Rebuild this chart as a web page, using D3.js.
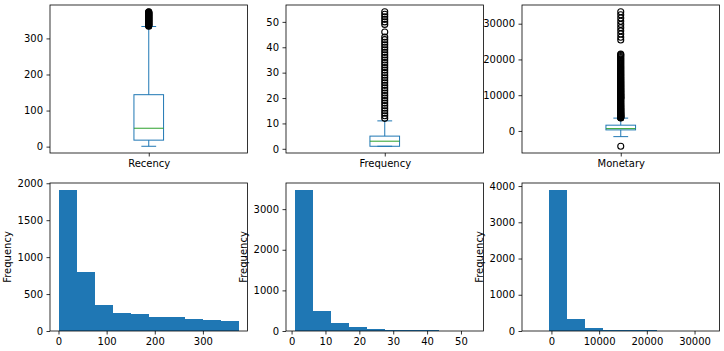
<!DOCTYPE html>
<html><head><meta charset="utf-8">
<script src="https://cdn.jsdelivr.net/npm/d3@7"></script>
<style>body{margin:0;background:#fff}text{font-family:"DejaVu Sans",sans-serif}</style>
</head><body>
<svg id="chart" width="724" height="351"></svg>
<script>
// ---------- data ----------
const categories = ["Recency", "Frequency", "Monetary"];

// box plot statistics
const boxQ1 = [18, 1, 293];
const boxMedian = [51, 3, 648];
const boxQ3 = [144, 5, 1612];
const boxWhiskerLow = [1, 1, -1592];
const boxWhiskerHigh = [333, 11, 3590];

const recencyOutliers = [334, 335, 336, 337, 338, 339, 340, 341, 342, 343, 344, 345, 346, 347, 348, 349, 350,
  351, 352, 353, 354, 355, 356, 357, 358, 359, 360, 361, 362, 363, 364, 365, 366, 367, 368, 369, 370, 371, 372, 373, 374];
const frequencyOutliers = [12, 13, 14, 15, 16, 17, 18, 19, 20, 21, 22, 23, 24, 25, 26, 27, 28, 29, 30, 31, 32, 33,
  34, 35, 36, 37, 38, 39, 40, 41, 42, 43, 44, 46, 49, 50, 51, 52, 53, 54];
const monetaryOutliers = [-4288, 3620, 3700, 3790, 3880, 3960, 4050, 4150, 4240, 4330, 4440, 4530, 4650, 4760, 4870,
  4990, 5100, 5230, 5350, 5480, 5620, 5760, 5900, 6050, 6200, 6360, 6520, 6690, 6860, 7040, 7220, 7410, 7600, 7800,
  8010, 8220, 8440, 8670, 8900, 9050, 9140, 9300, 9390, 9520, 9650, 9800, 9920, 10060, 10200, 10350, 10490, 10640,
  10790, 10950, 11100, 11260, 11420, 11580, 11750, 11920, 12090, 12260, 12440, 12620, 12800, 12990, 13180, 13370,
  13570, 13770, 13970, 14180, 14390, 14600, 14820, 15040, 15260, 15490, 15720, 15950, 16190, 16430, 16680, 16930,
  17180, 17440, 17700, 17960, 18230, 18500, 18780, 19060, 19340, 19630, 19920, 20210, 20510, 20810, 21120, 21350,
  21535, 25450, 26200, 27100, 28000, 28900, 29800, 30700, 31600, 32500, 33350];
const boxOutliers = [recencyOutliers, frequencyOutliers, monetaryOutliers];

const recencyBoxTicks = [0, 100, 200, 300];
const frequencyBoxTicks = [0, 10, 20, 30, 40, 50];
const monetaryBoxTicks = [0, 10000, 20000, 30000];
const boxTicks = [recencyBoxTicks, frequencyBoxTicks, monetaryBoxTicks];

// histogram counts (10 equal-width bins over the data range)
const recencyCounts = [1908, 794, 352, 244, 226, 189, 188, 162, 149, 135];
const frequencyCounts = [3470, 495, 205, 99, 50, 24, 22, 20, 3, 7];
const monetaryCounts = [2, 3890, 331, 83, 25, 20, 18, 2, 4, 5];
const histCounts = [recencyCounts, frequencyCounts, monetaryCounts];

const recencyHistXTicks = [0, 100, 200, 300];
const frequencyHistXTicks = [0, 10, 20, 30, 40, 50];
const monetaryHistXTicks = [0, 10000, 20000, 30000];
const histXTicks = [recencyHistXTicks, frequencyHistXTicks, monetaryHistXTicks];

const recencyHistYTicks = [0, 500, 1000, 1500, 2000];
const frequencyHistYTicks = [0, 1000, 2000, 3000];
const monetaryHistYTicks = [0, 1000, 2000, 3000, 4000];
const histYTicks = [recencyHistYTicks, frequencyHistYTicks, monetaryHistYTicks];

const histYLabel = "Frequency";

// ---------- layout ----------
const colX = [50, 286, 522];
const panelW = 197.5;
const rowY = [5, 183];
const panelH = 148;
const C0 = "#1f77b4", C2 = "#2ca02c";

const svg = d3.select("#chart");
const fmt = d3.format("d");

function styleAxis(g) {
  g.select(".domain").remove();
  g.selectAll(".tick line").attr("stroke", "#000").attr("stroke-width", 0.8);
  g.selectAll(".tick text").attr("fill", "#000").style("font-size", "10px")
    .style("font-family", '"DejaVu Sans", sans-serif');
}

function spine(x0, y0) {
  svg.append("rect").attr("x", x0).attr("y", y0).attr("width", panelW).attr("height", panelH)
    .attr("fill", "none").attr("stroke", "#000").attr("stroke-width", 0.8);
}

categories.forEach((cat, i) => {
  // ----- box plot -----
  const x0 = colX[i], y0 = rowY[0];
  const outl = boxOutliers[i];
  const lo = Math.min(boxWhiskerLow[i], d3.min(outl));
  const hi = Math.max(boxWhiskerHigh[i], d3.max(outl));
  const R = hi - lo;
  const x = d3.scaleLinear().domain([0.5, 1.5]).range([x0, x0 + panelW]);
  const y = d3.scaleLinear().domain([lo - 0.05 * R, hi + 0.05 * R]).range([y0 + panelH, y0]);

  const clipId = "clipb" + i;
  svg.append("clipPath").attr("id", clipId).append("rect")
    .attr("x", x0).attr("y", y0).attr("width", panelW).attr("height", panelH);
  const g = svg.append("g").attr("clip-path", `url(#${clipId})`);

  const pos = 1, bw = 0.15;
  // whiskers
  g.append("line").attr("x1", x(pos)).attr("x2", x(pos)).attr("y1", y(boxQ1[i])).attr("y2", y(boxWhiskerLow[i]))
    .attr("stroke", C0).attr("stroke-width", 1);
  g.append("line").attr("x1", x(pos)).attr("x2", x(pos)).attr("y1", y(boxQ3[i])).attr("y2", y(boxWhiskerHigh[i]))
    .attr("stroke", C0).attr("stroke-width", 1);
  // caps
  [boxWhiskerLow[i], boxWhiskerHigh[i]].forEach(v => {
    g.append("line").attr("x1", x(pos - bw / 4)).attr("x2", x(pos + bw / 4)).attr("y1", y(v)).attr("y2", y(v))
      .attr("stroke", C0).attr("stroke-width", 1);
  });
  // box
  g.append("rect").attr("x", x(pos - bw / 2)).attr("width", x(pos + bw / 2) - x(pos - bw / 2))
    .attr("y", y(boxQ3[i])).attr("height", y(boxQ1[i]) - y(boxQ3[i]))
    .attr("fill", "none").attr("stroke", C0).attr("stroke-width", 1);
  // median
  g.append("line").attr("x1", x(pos - bw / 2)).attr("x2", x(pos + bw / 2))
    .attr("y1", y(boxMedian[i])).attr("y2", y(boxMedian[i]))
    .attr("stroke", C2).attr("stroke-width", 1);
  // fliers
  g.selectAll("circle.fl").data(outl).enter().append("circle").attr("class", "fl")
    .attr("cx", x(pos)).attr("cy", d => y(d)).attr("r", 3)
    .attr("fill", "none").attr("stroke", "#000").attr("stroke-width", 1.1);

  spine(x0, y0);
  svg.append("g").attr("transform", `translate(${x0},0)`)
    .call(d3.axisLeft(y).tickValues(boxTicks[i]).tickFormat(fmt).tickSize(3.5).tickPadding(3.5))
    .call(styleAxis);
  svg.append("g").attr("transform", `translate(0,${y0 + panelH})`)
    .call(d3.axisBottom(x).tickValues([pos]).tickFormat(() => cat).tickSize(3.5).tickPadding(3.5))
    .call(styleAxis);

  // ----- histogram -----
  const hy0 = rowY[1];
  const counts = histCounts[i];
  const hx = d3.scaleLinear().domain([lo - 0.05 * R, hi + 0.05 * R]).range([x0, x0 + panelW]);
  const hyS = d3.scaleLinear().domain([0, d3.max(counts) * 1.05]).range([hy0 + panelH, hy0]);
  const binW = R / counts.length;
  const clipId2 = "cliph" + i;
  svg.append("clipPath").attr("id", clipId2).append("rect")
    .attr("x", x0).attr("y", hy0).attr("width", panelW).attr("height", panelH);
  const hg = svg.append("g").attr("clip-path", `url(#${clipId2})`);
  hg.selectAll("rect.bar").data(counts).enter().append("rect").attr("class", "bar")
    .attr("x", (d, k) => hx(lo + k * binW))
    .attr("width", (d, k) => hx(lo + (k + 1) * binW) - hx(lo + k * binW) + 0.4)
    .attr("y", d => hyS(d)).attr("height", d => hyS(0) - hyS(d))
    .attr("fill", C0).attr("shape-rendering", "crispEdges");

  spine(x0, hy0);
  svg.append("g").attr("transform", `translate(${x0},0)`)
    .call(d3.axisLeft(hyS).tickValues(histYTicks[i]).tickFormat(fmt).tickSize(3.5).tickPadding(3.5))
    .call(styleAxis);
  svg.append("g").attr("transform", `translate(0,${hy0 + panelH})`)
    .call(d3.axisBottom(hx).tickValues(histXTicks[i]).tickFormat(fmt).tickSize(3.5).tickPadding(3.5))
    .call(styleAxis);

  // y label
  const widest = d3.max(histYTicks[i], t => fmt(t).length) * 6.36;
  const lblX = x0 - 7 - widest - 4 - 2.4;
  svg.append("text").attr("transform", `translate(${lblX},${hy0 + panelH / 2}) rotate(-90)`)
    .attr("text-anchor", "middle").style("font-size", "10px").attr("fill", "#000").text(histYLabel);
});
</script></body></html>
